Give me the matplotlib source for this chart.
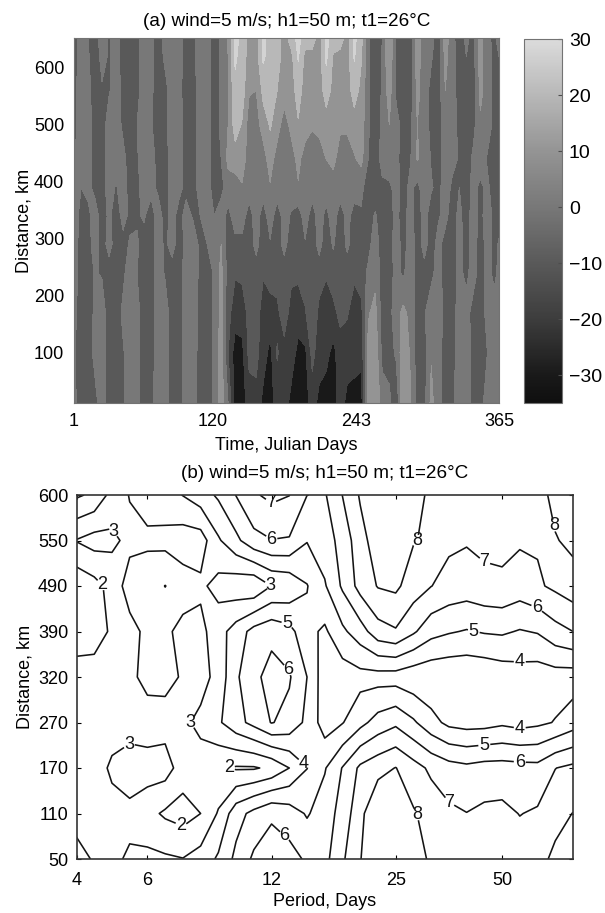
import matplotlib
matplotlib.use("Agg")
import matplotlib.pyplot as plt
import numpy as np
from matplotlib.cm import ScalarMappable
from matplotlib.colors import LinearSegmentedColormap, Normalize

# panel (a): temperature field, one list per distance
days = list(range(1, 362, 6)) + [365]
distances = [12, 100, 170, 240, 290, 340, 390, 440, 500, 560, 620, 652]

d012 = [-3,-9,-5,-8,0,-10,-10,-6,0,-3,-10,-8,0,-1,-10,-9,0,0,-10,-10,-3,
        10,-5,-30,-30,-20,-18,-28,-30,-20,-20,-28,-30,-30,-20,-28,-30,-30,-20,-28,-30,-30,
        10,14,0,-2,-14,14,6,-8,-8,8,-2,-8,-8,3,0,-9,-9,0,4,2]
d100 = [-4,-10,-10,-2,0,-10,-10,-6,0,-3,-10,-9,0,-1,-10,-10,0,0,-9,-10,-3,
        10,-15,-30,-28,-12,-12,-20,-28,-14,-20,-20,-28,-27,-12,-20,-22,-28,-20,-20,-20,-22,
        8,12,-8,-10,-3,12,4,-10,-10,4,0,-10,-9,0,3,-10,-10,-5,2,-3]
d170 = [-2,-10,-10,-3,0,-10,-10,-3,0,-2,-10,-9,0,0,-10,-10,0,0,-8,-10,-4,
        8,-12,-20,-20,-12,-10,-20,-20,-18,-8,-20,-20,-16,-6,-18,-20,-18,-12,-14,-20,-18,
        4,8,-10,-8,0,8,2,-10,-6,2,2,-10,-10,0,0,-10,-10,-2,0,-2]
d240 = [0,-10,-10,-4,-6,-10,-10,-7,0,-5,-10,-9,0,-6,-10,-10,0,0,-7,-10,-4,
        8,-10,-14,-13,-10,-10,-14,-10,-10,-10,-12,-13,-10,-10,-10,-14,-10,-10,-10,-13,-10,
        -3,2,-10,-10,-1,-7,2,-10,-8,-8,0,-10,-10,-2,-8,0,-10,-1,-8,-2]
d290 = [0,-9,-9,0,-10,-1,-10,-8,-4,-4,-8,-10,0,-7,-1,-10,-2,0,-7,-5,0,
        5,-10,-8,-8,-10,-2,-10,-6,-10,-2,-10,-10,-6,-10,-2,-10,-4,-10,-3,-10,-10,
        -8,0,-10,-10,0,-9,0,-9,-2,-9,-2,-9,-10,-2,-9,0,-10,-1,-8,-4]
d340 = [0,-8,-8,0,-10,-3,-10,-2,-7,-6,-4,-10,0,-9,-1,-9,-1,-6,-5,-3,-5,
        0,-8,0,0,-10,0,-10,0,-10,-1,-6,-10,0,-10,0,-8,0,-10,-2,-9,-6,
        -9,-4,-10,-9,-2,-10,0,-10,-1,-10,-6,-2,-10,-2,-10,0,-8,0,-8,-9]
d390 = [0,-5,-2,-8,-10,0,-6,0,-9,-8,0,-2,-7,-10,0,-2,-8,-10,0,0,-10,
        -8,0,0,4,0,0,0,4,0,0,0,4,0,0,0,0,0,0,0,0,-3,
        -9,-10,-8,-8,0,-10,-2,-8,0,-4,-8,0,-7,-5,-10,-2,-7,-3,-10,-9]
d440 = [-6,0,0,-10,-10,0,0,-2,-10,-6,0,0,-9,-9,0,0,-9,-10,0,0,-10,
        -5,8,10,10,0,0,0,10,0,0,0,8,0,0,0,5,8,0,0,4,8,
        -5,-12,0,5,-2,-10,-6,6,2,-6,-10,0,-2,-6,-10,-3,0,-6,-9,-9]
d500 = [-8,0,0,-10,-10,0,0,-7,-10,-5,0,-4,-10,-8,0,0,-9,-10,-1,0,-10,
        -3,5,20,14,0,0,10,16,10,0,8,14,10,6,8,10,10,7,7,10,10,
        -3,-14,-2,5,0,-10,-8,5,0,-8,-10,0,0,-8,-10,-8,3,0,-8,-9]
d560 = [-8,0,-2,-10,-6,-6,0,-8,-10,-8,0,-3,-10,-8,0,-2,-10,-9,0,0,-10,
        -3,5,22,20,6,5,18,20,15,10,10,20,10,10,10,20,12,10,10,20,12,
        -2,-15,-3,10,-8,-10,-10,8,0,-8,-10,5,0,-10,-10,-10,8,0,-8,-8]
d620 = [-10,0,-4,-10,-2,-6,0,-10,-10,-8,0,-3,-10,-3,0,0,-10,-8,0,0,-10,
        -3,5,27,20,11,10,27,20,20,10,12,26,12,12,10,27,14,12,10,26,16,
        -2,-15,-4,14,-8,-10,-10,9,-1,-4,-10,8,-1,-10,-5,-9,9,-2,-7,-5]
d652 = [-10,0,-5,-10,0,-6,0,-10,-10,-8,0,-3,-10,-2,0,0,-10,-8,0,0,-10,
        -3,6,28,22,12,10,28,20,20,10,20,28,20,20,10,28,20,20,10,28,18,
        -2,-15,-5,15,-8,-10,-10,10,-2,-2,-10,10,-2,-10,-3,-8,10,-4,-6,-3]

band_levels = [-35, -25, -15, -5, 5, 15, 25, 30]
bar_ticks = [-30, -20, -10, 0, 10, 20, 30]
gray_values = [-35, -30, -20, -10, 0, 10, 20, 30]
gray_tones = [0.06, 0.1, 0.24, 0.35, 0.47, 0.58, 0.72, 0.86]
time_ticks = [1, 120, 243, 365]
distance_ticks = [100, 200, 300, 400, 500, 600]

# panel (b): spectral field, one list per distance row
period_ticks = ["4", "6", "12", "25", "50"]
period_tick_cols = [0, 4, 11, 18, 24]
row_labels = ["50", "110", "170", "270", "320", "390", "490", "550", "600"]

r050 = [3.37,2.9,2.85,3.1,3.25,3.15,3.03,3.4,4.15,5.25,6.18,6.5,6.35,5.86,5.7,6.85,7.95,9.0,9.2,8.6,7.79,7.6,7.5,7.5,7.5,7.5,7.7,8.2,8.7]
r110 = [2.6,2.55,2.7,2.8,2.3,1.85,1.6,2.0,3.1,4.6,5.3,5.85,5.5,4.9,5.5,6.38,7.7,9.0,9.0,8.1,7.6,7.2,7.02,7.2,7.25,6.97,7.13,7.7,8.02]
r170 = [2.6,2.6,3.15,3.4,3.5,3.45,2.5,2.55,2.15,1.9,1.9,2.2,3.0,3.98,4.92,6.05,7.2,7.65,8.03,7.4,6.8,6.4,6.23,6.4,6.42,6.35,6.3,6.98,7.24]
r270 = [2.6,2.55,2.6,2.65,2.4,2.6,2.8,3.25,3.85,4.65,5.3,6.05,5.7,4.75,3.52,3.95,4.7,5.4,5.8,5.15,4.35,3.75,3.6,3.63,3.82,3.65,3.8,4.05,4.54]
r320 = [2.5,2.4,2.5,2.7,3.4,3.3,2.9,2.6,3.35,4.85,5.73,6.4,6.1,5.0,3.4,3.45,3.65,3.6,3.55,3.3,3.2,3.15,3.14,3.2,3.39,3.54,3.45,3.55,3.5]
r390 = [1.4,1.6,2.13,2.65,3.25,3.2,2.7,2.7,3.6,4.45,5.35,5.7,5.34,4.28,3.83,4.8,5.55,6.6,6.9,6.15,5.35,5.09,4.93,5.08,5.14,4.93,5.07,5.65,6.0]
r490 = [1.24,1.65,2.35,3.48,3.45,4.02,3.5,3.2,2.65,2.35,2.15,3.02,3.2,3.95,4.9,6.15,7.36,8.06,8.2,7.5,7.02,6.66,6.53,6.72,6.79,6.52,6.86,7.2,7.56]
r550 = [3.05,3.4,3.23,2.72,2.86,2.7,2.45,2.51,3.87,4.76,5.68,5.97,5.91,5.05,5.54,6.35,7.65,8.5,8.8,8.06,7.8,7.19,7.08,7.25,7.29,7.12,7.1,7.93,8.25]
r600 = [0.85,1.2,2.35,3.05,3.3,3.6,4.03,4.55,5.15,6.03,6.88,7.23,7.02,6.01,5.9,7.02,8.1,8.6,9.0,8.4,7.78,7.6,7.5,7.5,7.5,7.5,7.6,8.3,9.0]

contour_levels = [1, 2, 3, 4, 5, 6, 7, 8]

W, H = 605, 913


def add_axes_px(fig, left, top, right, bottom):
    return fig.add_axes([left / W, 1 - bottom / H, (right - left) / W, (bottom - top) / H])


def plot_time_distance(fig):
    ax = add_axes_px(fig, 74, 38, 499, 403)
    field = np.array([d012, d100, d170, d240, d290, d340, d390, d440, d500, d560, d620, d652])
    norm = Normalize(-35, 30)
    nodes = [(v + 35) / 65 for v in gray_values]
    cmap = LinearSegmentedColormap.from_list("bands", [(n, str(t)) for n, t in zip(nodes, gray_tones)])

    ax.contourf(days, distances, field, levels=band_levels, cmap=cmap, norm=norm, extend="both")
    ax.set_xlim(1, 365)
    ax.set_ylim(12, 652)
    ax.set_xticks(time_ticks)
    ax.set_yticks(distance_ticks)
    ax.tick_params(direction="in", length=0, pad=7, labelsize=13)
    ax.tick_params(axis="x", pad=7)
    ax.set_title("(a) wind=5 m/s; h1=50 m; t1=26°C", fontsize=13.6, pad=9)
    ax.set_xlabel("Time, Julian Days", fontsize=13, labelpad=5)
    ax.set_ylabel("Distance, km", fontsize=13, labelpad=1)
    for spine in ax.spines.values():
        spine.set_color("0.45")

    cax = add_axes_px(fig, 524, 39, 562, 403)
    bar = fig.colorbar(ScalarMappable(norm=norm, cmap=cmap), cax=cax)
    bar.set_ticks(bar_ticks)
    bar.ax.set_yticklabels([str(t).replace("-", "\u2212") for t in bar_ticks])
    bar.ax.tick_params(direction="in", length=3, pad=5, labelsize=14, color="0.3")
    bar.outline.set_edgecolor("0.45")


def plot_period_distance(fig):
    ax = add_axes_px(fig, 76.5, 495, 573, 859)
    field = np.array([r050, r110, r170, r270, r320, r390, r490, r550, r600])
    cols = np.arange(field.shape[1])
    rows = np.arange(field.shape[0])

    cs = ax.contour(cols, rows, field, levels=contour_levels, colors="0.08", linewidths=1.15)
    label_spots = [
        (1.9, 7.15), (3.0, 2.5), (6.36, 3.0), (10.9, 6.0), (1.35, 6.0), (5.9, 0.73), (8.15, 1.97),
        (12.9, 2.15), (25.0, 4.34), (25.0, 2.88), (11.9, 5.18), (22.4, 5.0), (23.0, 2.5),
        (10.9, 6.97), (11.9, 4.15), (11.9, 0.58), (26.0, 5.55), (25.0, 2.1),
        (10.9, 7.8), (22.9, 6.48), (21.0, 1.24), (19.2, 7.0), (26.95, 7.33), (19.2, 0.98),
    ]
    labels = ax.clabel(cs, manual=label_spots, fontsize=13, fmt="%d", inline=True, inline_spacing=1)
    for label in labels:
        label.set_rotation(0)

    ax.set_xlim(0, 28)
    ax.set_ylim(0, 8)
    ax.set_xticks(period_tick_cols)
    ax.set_xticklabels(period_ticks)
    ax.set_yticks(rows)
    ax.set_yticklabels(row_labels)
    ax.tick_params(direction="in", length=3, top=True, right=True, labelsize=13, pad=6, width=0.8)
    ax.tick_params(axis="x", pad=9)
    ax.set_title("(b) wind=5 m/s; h1=50 m; t1=26°C", fontsize=13.6, pad=12)
    ax.set_xlabel("Period, Days", fontsize=13, labelpad=3)
    ax.set_ylabel("Distance, km", fontsize=13, labelpad=3)
    for spine in ax.spines.values():
        spine.set_color("0.2")
        spine.set_linewidth(1.2)


plt.rcParams["font.family"] = ["Liberation Sans", "DejaVu Sans"]
fig = plt.figure(figsize=(W / 100, H / 100), dpi=100)
plot_time_distance(fig)
plot_period_distance(fig)
fig.savefig("out.png", dpi=100)
plt.close(fig)
